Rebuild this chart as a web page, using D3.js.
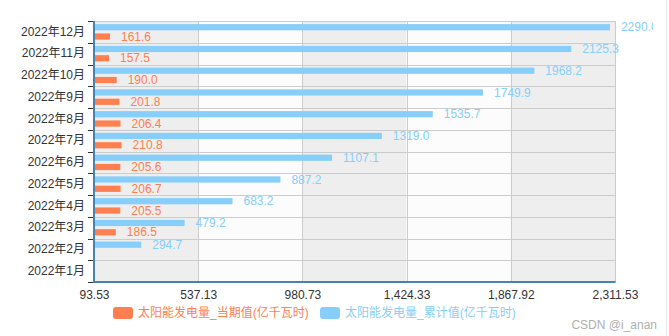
<!DOCTYPE html>
<html>
<head>
<meta charset="utf-8">
<script src="https://cdn.jsdelivr.net/npm/d3@7"></script>
<style>
  html, body { margin: 0; padding: 0; background: #fff; }
  svg { display: block; font-family: "Liberation Sans", Arial, "Noto Sans CJK SC", sans-serif; }
</style>
</head>
<body>
<svg id="chart" width="669" height="336"></svg>
<script>
// Months, bottom to top
const months = ["2022年1月", "2022年2月", "2022年3月", "2022年4月", "2022年5月", "2022年6月",
                "2022年7月", "2022年8月", "2022年9月", "2022年10月", "2022年11月", "2022年12月"];
// Monthly solar generation (100 million kWh)
const currentValues = [null, null, 186.5, 205.5, 206.7, 205.6, 210.8, 206.4, 201.8, 190.0, 157.5, 161.6];
// Year-to-date cumulative solar generation (100 million kWh)
const cumulativeValues = [null, 294.7, 479.2, 683.2, 887.2, 1107.1, 1319.0, 1535.7, 1749.9, 1968.2, 2125.3, 2290.0];
// Value-axis ticks
const xTicks = [93.53, 537.13, 980.73, 1424.33, 1867.92, 2311.53];

const seriesNames = ["太阳能发电量_当期值(亿千瓦时)", "太阳能发电量_累计值(亿千瓦时)"];
const colors = { cur: "#ff7f50", cum: "#87cefa" };

const svg = d3.select("#chart");
const margin = { left: 94, right: 615, top: 21, bottom: 282 };

const x = d3.scaleLinear().domain([xTicks[0], xTicks[xTicks.length - 1]]).range([margin.left, margin.right]);
const y = d3.scaleBand().domain(months.slice().reverse()).range([margin.top, margin.bottom]).padding(0);
const sub = d3.scaleBand().domain(["cum", "cur"]).range([0, y.bandwidth()]).paddingInner(1 / 3).paddingOuter(1 / 3);

svg.append("defs").append("clipPath").attr("id", "clip")
  .append("rect").attr("x", 0).attr("y", 0).attr("width", 653).attr("height", 336);

const g = svg.append("g").attr("clip-path", "url(#clip)");

// Alternating column stripes between value ticks
const stripeColors = ["#eeeeee", "#fcfcfc"];
g.append("g").selectAll("rect")
  .data(d3.pairs(xTicks))
  .join("rect")
  .attr("x", d => x(d[0]))
  .attr("y", margin.top)
  .attr("width", d => x(d[1]) - x(d[0]))
  .attr("height", margin.bottom - margin.top)
  .attr("fill", (d, i) => stripeColors[i % 2]);

// Grid lines
const grid = g.append("g").attr("stroke", "#cccccc").attr("stroke-width", 1);
grid.selectAll("line.v")
  .data(xTicks)
  .join("line")
  .attr("class", "v")
  .attr("x1", d => Math.round(x(d)) + 0.5).attr("x2", d => Math.round(x(d)) + 0.5)
  .attr("y1", margin.top).attr("y2", margin.bottom);
const boundaries = months.map(m => y(m)).concat([margin.bottom]);
grid.selectAll("line.h")
  .data(boundaries)
  .join("line")
  .attr("class", "h")
  .attr("x1", margin.left).attr("x2", margin.right)
  .attr("y1", d => Math.round(d) + 0.5).attr("y2", d => Math.round(d) + 0.5);

// Bars
const rows = months.map((m, i) => ({ month: m, cur: currentValues[i], cum: cumulativeValues[i] }));
["cum", "cur"].forEach(key => {
  const data = rows.filter(r => r[key] != null);
  g.append("g").selectAll("rect")
    .data(data)
    .join("rect")
    .attr("x", x(xTicks[0]))
    .attr("y", d => y(d.month) + sub(key))
    .attr("width", d => x(d[key]) - x(xTicks[0]))
    .attr("height", sub.bandwidth())
    .attr("fill", colors[key]);
  g.append("g").selectAll("text")
    .data(data)
    .join("text")
    .attr("x", d => x(d[key]) + 11)
    .attr("y", d => y(d.month) + sub(key) + sub.bandwidth() / 2)
    .attr("dy", "0.35em")
    .attr("fill", colors[key])
    .attr("font-size", 12)
    .text(d => d[key].toFixed(1));
});

// Axis lines
g.append("line")
  .attr("x1", margin.left).attr("x2", margin.left)
  .attr("y1", margin.top).attr("y2", margin.bottom + 1)
  .attr("stroke", "#4682b4").attr("stroke-width", 2);
g.append("line")
  .attr("x1", margin.left - 1).attr("x2", margin.right + 0.5)
  .attr("y1", margin.bottom).attr("y2", margin.bottom)
  .attr("stroke", "#4682b4").attr("stroke-width", 2);

// Category ticks at band boundaries
g.append("g").selectAll("line")
  .data(boundaries)
  .join("line")
  .attr("x1", margin.left - 6).attr("x2", margin.left - 1)
  .attr("y1", d => Math.round(d) + 0.5).attr("y2", d => Math.round(d) + 0.5)
  .attr("stroke", "#333").attr("stroke-width", 1);

// Category labels
const yAxis = d3.axisLeft(y).tickSize(0).tickPadding(0);
const ya = g.append("g").attr("transform", `translate(${margin.left - 9},0)`).call(yAxis);
ya.select(".domain").remove();
ya.selectAll("text").attr("font-size", 12).attr("fill", "#333")
  .attr("font-family", "\"Liberation Sans\", Arial, \"Noto Sans CJK SC\", sans-serif");

// Value-axis labels
const xAxis = d3.axisBottom(x).tickValues(xTicks).tickSize(0).tickPadding(0).tickFormat(d3.format(",.2f"));
const xa = g.append("g").attr("transform", `translate(0,${margin.bottom + 8})`).call(xAxis);
xa.select(".domain").remove();
xa.selectAll("text").attr("font-size", 12).attr("fill", "#333").attr("dy", "0.71em")
  .attr("font-family", "\"Liberation Sans\", Arial, \"Noto Sans CJK SC\", sans-serif");

// Legend
const legend = g.append("g");
const legendItems = [
  { name: seriesNames[0], color: colors.cur, x: 113 },
  { name: seriesNames[1], color: colors.cum, x: 320 }
];
legendItems.forEach(it => {
  legend.append("rect")
    .attr("x", it.x).attr("y", 307).attr("width", 20).attr("height", 12).attr("rx", 3)
    .attr("fill", it.color);
  legend.append("text")
    .attr("x", it.x + 25).attr("y", 313).attr("dy", "0.35em")
    .attr("font-size", 12).attr("fill", it.color)
    .text(it.name);
});

// Page decorations
svg.append("line").attr("x1", 666.5).attr("x2", 666.5).attr("y1", 0).attr("y2", 336)
  .attr("stroke", "#e6e6e6");
svg.append("text").attr("x", 657).attr("y", 325).attr("dy", "0.35em").attr("text-anchor", "end")
  .attr("font-size", 12).attr("fill", "#b0b0b0").text("CSDN @i_anan");
</script>
</body>
</html>
